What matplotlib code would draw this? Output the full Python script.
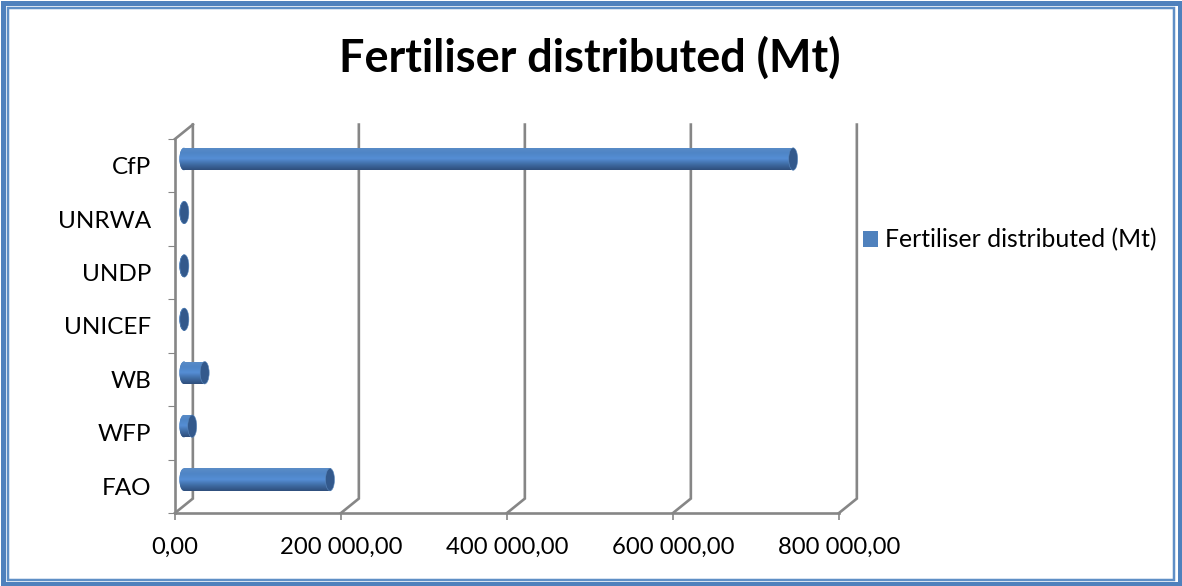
import numpy as np
import matplotlib
matplotlib.use("Agg")
import matplotlib.pyplot as plt
from matplotlib.patches import Ellipse, Patch, Rectangle
from matplotlib.colors import LinearSegmentedColormap

plt.rcParams['font.family'] = ['Lato', 'DejaVu Sans']

categories = ["FAO", "WFP", "WB", "UNICEF", "UNDP", "UNRWA", "CfP"]
values = [176000, 10000, 25000, 500, 500, 500, 734000]
xticks = [0, 200000, 400000, 600000, 800000]
xtick_labels = ["0,00", "200 000,00", "400 000,00", "600 000,00", "800 000,00"]
title = "Fertiliser distributed (Mt)"

W, H = 1182, 586
GREY = "#868686"
BLUE = "#4f81bd"

# fake 3d depth of the box, in data units
depth_x = 21500
depth_y = 0.27
bar_h = 0.42
cap_w = 9 * 800000 / 664

fig = plt.figure(figsize=(W / 100, H / 100), dpi=100)

# frame
def frame(x0, y0, x1, y1, lw, color):
    fig.add_artist(Rectangle((x0 / W, y0 / H), (x1 - x0) / W, (y1 - y0) / H, fill=False,
                             ec=color, lw=lw * 0.72, transform=fig.transFigure))

frame(2.5, 2.5, W - 2.5, H - 2.5, 5, BLUE)
frame(8, 6.5, W - 8, H - 8, 2.5, "#5f8fc6")

ax = fig.add_axes([175 / W, (H - 513) / H, (839 - 175) / W, (513 - 139) / H])
ax.set_xlim(0, 800000)
ax.set_ylim(0, 7)
ax.patch.set_alpha(0)

# back wall lines
for v in xticks:
    ax.plot([v, v + depth_x, v + depth_x], [0, depth_y, 7 + depth_y], color=GREY, lw=1.9,
            clip_on=False, solid_joinstyle="miter", zorder=1)
ax.plot([0, depth_x], [7, 7 + depth_y], color=GREY, lw=1.9, clip_on=False, zorder=1)

cmap = LinearSegmentedColormap.from_list("cyl", ["#2f4f7c", "#3f6ca4", "#558ed5", "#4f85c6", "#5a8cc6"])
grad = np.linspace(0, 1, 64).reshape(-1, 1)

y_pos = np.arange(len(categories)) + 0.5
y_bar = y_pos + depth_y / 2 - 0.01
x0 = depth_x / 2
bars = ax.barh(y_bar, values, height=bar_h, left=x0, color=BLUE, clip_on=False, zorder=2)

for v, y, b in zip(values, y_bar, bars):
    left = Ellipse((x0, y), cap_w, bar_h, fc=BLUE, ec="none", clip_on=False, zorder=2)
    ax.add_patch(left)
    for ext, clip in [((x0 - cap_w / 2, x0 + v, y - bar_h / 2, y + bar_h / 2), left),
                      ((x0, x0 + v, y - bar_h / 2, y + bar_h / 2), b)]:
        im = ax.imshow(grad, extent=ext, origin="lower", aspect="auto", cmap=cmap, zorder=3,
                       clip_on=True, interpolation="bilinear")
        im.set_clip_path(clip)
    ax.add_patch(Ellipse((x0 + v, y), cap_w, bar_h, fc="#33598c", ec="#5a88bd", lw=0.4,
                         clip_on=False, zorder=4))

ax.set_xlim(0, 800000)
ax.set_ylim(0, 7)

for s in ["top", "right"]:
    ax.spines[s].set_visible(False)
for s in ["left", "bottom"]:
    ax.spines[s].set_color(GREY)
    ax.spines[s].set_linewidth(1.9)
    ax.spines[s].set_zorder(1)

ax.set_xticks(xticks)
ax.set_xticklabels(xtick_labels)
ax.set_yticks(np.arange(8))
ax.set_yticklabels([])
# labels sit a little below the middle of each band
ax.set_yticks(y_pos - 0.035, minor=True)
ax.set_yticklabels(categories, minor=True, va="center")
ax.tick_params(axis="y", which="minor", length=0, pad=17, labelsize=17.5)
ax.tick_params(axis="y", which="major", length=5, width=0.8, color=GREY)
ax.tick_params(axis="x", length=5, width=1.2, color=GREY, pad=12, labelsize=17.2)

fig.text(590 / W, (H - 58) / H, title, ha="center", va="center", fontsize=32.4, fontweight="bold")

handle = Patch(fc=BLUE, label=title)
fig.legend(handles=[handle], loc="center left", bbox_to_anchor=(858 / W, (H - 240) / H),
           frameon=False, fontsize=17.8, handlelength=0.6, handleheight=0.6,
           handletextpad=0.3, borderaxespad=0, borderpad=0.2)

fig.savefig("out.png", dpi=100)
